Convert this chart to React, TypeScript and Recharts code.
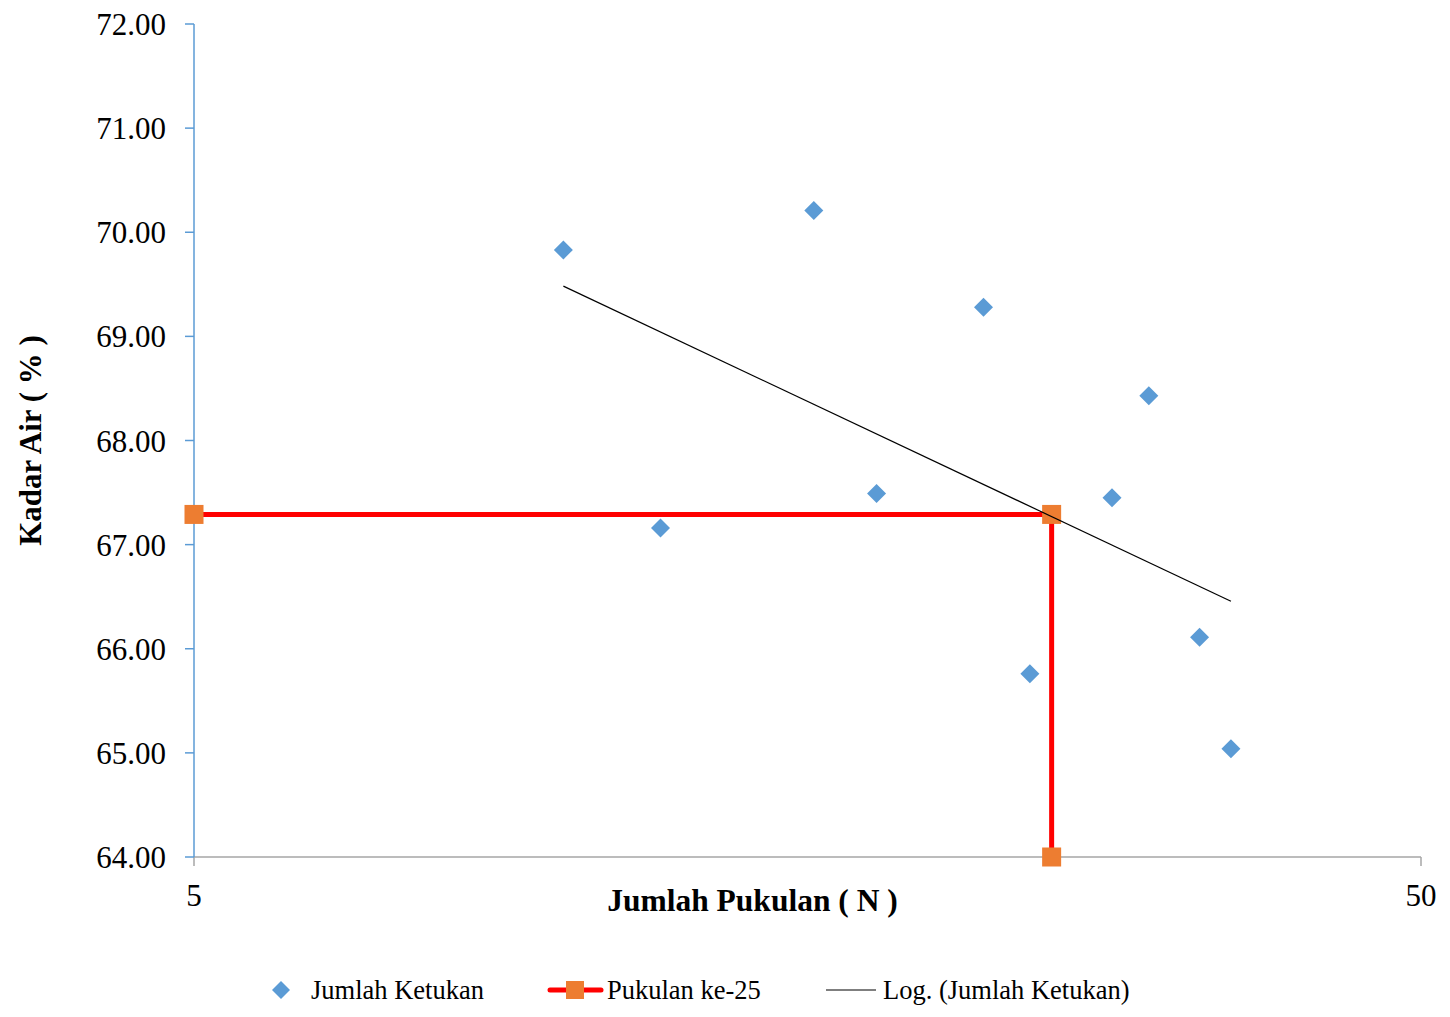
import React from "react"
import { ScatterChart, Scatter, XAxis, YAxis, Label } from "recharts"

// jumlah ketukan (N) dan kadar air (%)
const ketukanN = [10, 12, 16, 18, 22, 24, 28, 30, 33, 35]
const kadarAir = [69.83, 67.16, 70.21, 67.49, 69.28, 65.76, 67.45, 68.43, 66.11, 65.04]

// garis bantu pukulan ke-25
const pukulanN = [5, 25, 25]
const pukulanKadar = [67.29, 67.29, 64]

const xTicks = [5, 50]
const yTicks = [64, 65, 66, 67, 68, 69, 70, 71, 72]

const FONT = '"Liberation Serif", "Times New Roman", serif'
const BLUE = "#5B9BD5"
const ORANGE = "#ED7D31"

const ketukanData = ketukanN.map((x, i) => ({ x, y: kadarAir[i] }))
const pukulanData = pukulanN.map((x, i) => ({ x, y: pukulanKadar[i] }))

// regresi logaritmik y = a*ln(x) + b
function logTrend(xs: number[], ys: number[]) {
  const lx = xs.map((v) => Math.log(v))
  const mx = lx.reduce((s, v) => s + v, 0) / lx.length
  const my = ys.reduce((s, v) => s + v, 0) / ys.length
  let sxy = 0
  let sxx = 0
  lx.forEach((v, i) => {
    sxy += (v - mx) * (ys[i] - my)
    sxx += (v - mx) * (v - mx)
  })
  const a = sxy / sxx
  const b = my - a * mx
  const x0 = Math.min(...xs)
  const x1 = Math.max(...xs)
  return [
    { x: x0, y: a * Math.log(x0) + b },
    { x: x1, y: a * Math.log(x1) + b },
  ]
}

const trendData = logTrend(ketukanN, kadarAir)

const Diamond = (props: any) => {
  const { cx, cy } = props
  const r = 9.5
  return (
    <polygon
      points={`${cx},${cy - r} ${cx + r},${cy} ${cx},${cy + r} ${cx - r},${cy}`}
      fill={BLUE}
    />
  )
}

const Square = (props: any) => {
  const { cx, cy } = props
  const s = 19
  return <rect x={cx - s / 2} y={cy - s / 2} width={s} height={s} fill={ORANGE} />
}

const NoDot = () => <g />

const XTitle = (props: any) => {
  const { viewBox } = props
  return (
    <text
      x={viewBox.x + viewBox.width / 2 - 55}
      y={viewBox.y + 54}
      textAnchor="middle"
      fontSize={31.5}
      fontWeight="bold"
      fill="#000"
      fontFamily={FONT}
    >
      Jumlah Pukulan ( N )
    </text>
  )
}

const YTitle = (props: any) => {
  const { viewBox } = props
  const cx = 30
  const cy = viewBox.y + viewBox.height / 2
  return (
    <text
      x={cx}
      y={cy}
      transform={`rotate(-90, ${cx}, ${cy})`}
      textAnchor="middle"
      dominantBaseline="central"
      fontSize={31}
      fontWeight="bold"
      fill="#000"
      fontFamily={FONT}
    >
      Kadar Air ( % )
    </text>
  )
}

function ChartLegend() {
  const text: React.CSSProperties = {
    position: "absolute",
    top: 0,
    lineHeight: "30px",
    fontSize: 26.5,
    color: "#000",
    whiteSpace: "nowrap",
  }
  return (
    <div style={{ position: "absolute", left: 0, top: 975, width: 1450, height: 30, fontFamily: FONT }}>
      <svg width={1450} height={30} style={{ position: "absolute", left: 0, top: 0 }}>
        <polygon points="281,6 290,15 281,24 272,15" fill={BLUE} />
        <line x1={550} y1={15} x2={601} y2={15} stroke="#FF0000" strokeWidth={5} strokeLinecap="round" />
        <rect x={566} y={6} width={18} height={18} fill={ORANGE} />
        <line x1={826} y1={15} x2={876} y2={15} stroke="#000" strokeWidth={1.2} />
      </svg>
      <span style={{ ...text, left: 311 }}>Jumlah Ketukan</span>
      <span style={{ ...text, left: 607 }}>Pukulan ke-25</span>
      <span style={{ ...text, left: 883 }}>Log. (Jumlah Ketukan)</span>
    </div>
  )
}

export default function App() {
  return (
    <div style={{ position: "absolute", left: 0, top: 0, width: 1450, height: 1017, fontFamily: FONT, background: "#fff" }}>
      <ScatterChart width={1450} height={1017} margin={{ top: 24, right: 29, left: 0, bottom: 100 }}>
        <XAxis
          dataKey="x"
          type="number"
          scale="log"
          domain={[5, 50]}
          ticks={xTicks}
          interval={0}
          height={60}
          tickSize={9}
          tickMargin={18}
          axisLine={{ stroke: "#A6A6A6", strokeWidth: 1.5 }}
          tickLine={{ stroke: "#A6A6A6", strokeWidth: 1.5 }}
          tick={{ fill: "#000", fontSize: 31, fontFamily: FONT }}
        >
          <Label content={<XTitle />} />
        </XAxis>
        <YAxis
          dataKey="y"
          type="number"
          domain={[64, 72]}
          ticks={yTicks}
          interval={0}
          width={194}
          tickSize={9}
          tickMargin={19}
          tickFormatter={(v: number) => v.toFixed(2)}
          axisLine={{ stroke: BLUE, strokeWidth: 1.5 }}
          tickLine={{ stroke: BLUE, strokeWidth: 1.5 }}
          tick={{ fill: "#000", fontSize: 31, fontFamily: FONT }}
        >
          <Label content={<YTitle />} />
        </YAxis>
        <Scatter name="Jumlah Ketukan" data={ketukanData} shape={<Diamond />} isAnimationActive={false} />
        <Scatter
          name="Pukulan ke-25"
          data={pukulanData}
          line={{ stroke: "#FF0000", strokeWidth: 5 }}
          shape={<Square />}
          isAnimationActive={false}
        />
        <Scatter
          name="Log. (Jumlah Ketukan)"
          data={trendData}
          line={{ stroke: "#000", strokeWidth: 1.2 }}
          shape={<NoDot />}
          isAnimationActive={false}
        />
      </ScatterChart>
      <ChartLegend />
    </div>
  )
}
